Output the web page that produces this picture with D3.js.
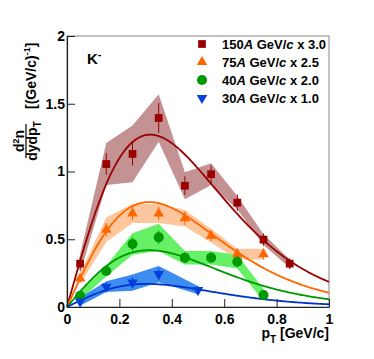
<!DOCTYPE html>
<html>
<head>
<meta charset="utf-8">
<script src="https://cdn.jsdelivr.net/npm/d3@7"></script>
<style>
  body { margin: 0; background: #fff; }
  text { font-family: "Liberation Sans", Arial, sans-serif; font-weight: bold; }
</style>
</head>
<body>
<div id="chart"></div>
<script>
// data (K- spectra, scaled)
var pt150 = [0.05, 0.15, 0.25, 0.35, 0.45, 0.55, 0.65, 0.75, 0.85];
var y150 = [0.32, 1.055, 1.13, 1.395, 0.895, 0.98, 0.77, 0.497, 0.32];
var stat150 = [0.05, 0.08, 0.085, 0.11, 0.07, 0.065, 0.06, 0.045, 0.04];
var sys150 = [0.07, 0.155, 0.21, 0.175, 0.1, 0.08, 0.05, 0.04, 0.03];

var pt75 = [0.05, 0.15, 0.25, 0.35, 0.45, 0.55, 0.65, 0.75];
var y75 = [0.21, 0.57, 0.69, 0.69, 0.655, 0.526, 0.39, 0.39];
var stat75 = [0.03, 0.05, 0.05, 0.05, 0.05, 0.04, 0.04, 0.04];
var sys75 = [0.04, 0.09, 0.07, 0.07, 0.06, 0.05, 0.04, 0.04];

var pt40 = [0.05, 0.15, 0.25, 0.35, 0.45, 0.55, 0.65, 0.75];
var y40 = [0.083, 0.266, 0.465, 0.514, 0.364, 0.364, 0.334, 0.088];
var stat40 = [0.02, 0.03, 0.05, 0.05, 0.04, 0.04, 0.04, 0.03];
var sys40 = [0.03, 0.04, 0.08, 0.1, 0.05, 0.05, 0.05, 0.045];

var pt30 = [0.05, 0.15, 0.25, 0.35, 0.5];
var y30 = [0.04, 0.15, 0.18, 0.243, 0.125];
var stat30 = [0.02, 0.03, 0.04, 0.04, 0.03];
var sys30 = [0.03, 0.04, 0.06, 0.06, 0.03];

// fit parameters (A, T) of A*pT*exp(-(mT-m)/T)
var fitA = [6.89, 4.25, 2.30, 0.96];
var fitT = [0.172, 0.168, 0.168, 0.16];
var kaonMass = 0.4937;

var energies = ["150", "75", "40", "30"];
var factors = ["3.0", "2.5", "2.0", "1.0"];

var xTicks = [0, 0.2, 0.4, 0.6, 0.8, 1];
var yTicks = [0, 0.5, 1, 1.5, 2];

(function() {
  var width = 374, height = 359;

  var svg = d3.select("#chart").append("svg")
              .attr("width", width)
              .attr("height", height);

  var x = d3.scaleLinear().domain([0, 1]).range([67, 329]);
  var y = d3.scaleLinear().domain([0, 2]).range([307, 36]);

  var series = [
    {pt: pt150, val: y150, stat: stat150, sys: sys150, line: "#990000", band: "#c49292", marker: "#990000", sym: d3.symbolSquare, size: 60, rot: 0},
    {pt: pt75, val: y75, stat: stat75, sys: sys75, line: "#ff6600", band: "#fdc69c", marker: "#ff6600", sym: d3.symbolTriangle, size: 48, rot: 0},
    {pt: pt40, val: y40, stat: stat40, sys: sys40, line: "#009900", band: "#66f066", marker: "#009900", sym: d3.symbolCircle, size: 80, rot: 0},
    {pt: pt30, val: y30, stat: stat30, sys: sys30, line: "#0033cc", band: "#3d8df0", marker: "#0040dd", sym: d3.symbolTriangle, size: 48, rot: 180}
  ];

  // frame
  svg.append("rect")
     .attr("x", 67).attr("y", 36)
     .attr("width", 262).attr("height", 271)
     .attr("fill", "none")
     .attr("stroke", "#999")
     .attr("stroke-width", 1.2);

  // systematic bands
  var area = d3.area()
               .x(function(d){ return x(d[0]); })
               .y0(function(d){ return y(d[1] - d[2]); })
               .y1(function(d){ return y(d[1] + d[2]); });

  series.forEach(function(s){
    var pts = s.pt.map(function(p, i){ return [p, s.val[i], s.sys[i]]; });
    svg.append("path")
       .attr("d", area(pts))
       .attr("fill", s.band);
  });

  // fit curves
  var line = d3.line()
               .x(function(d){ return x(d[0]); })
               .y(function(d){ return y(d[1]); });

  var grid = d3.range(0, 1.0001, 0.005);
  series.forEach(function(s, k){
    var pts = grid.map(function(p){
      var mt = Math.sqrt(p*p + kaonMass*kaonMass);
      return [p, fitA[k] * p * Math.exp(-(mt - kaonMass) / fitT[k])];
    });
    svg.append("path")
       .attr("d", line(pts))
       .attr("fill", "none")
       .attr("stroke", s.line)
       .attr("stroke-width", 1.8);
  });

  // points + stat errors
  series.forEach(function(s){
    var g = svg.append("g");
    s.pt.forEach(function(p, i){
      g.append("line")
       .attr("x1", x(p)).attr("x2", x(p))
       .attr("y1", y(s.val[i] - s.stat[i]))
       .attr("y2", y(s.val[i] + s.stat[i]))
       .attr("stroke", s.marker)
       .attr("stroke-width", 1);
      g.append("path")
       .attr("d", d3.symbol().type(s.sym).size(s.size)())
       .attr("transform", "translate(" + x(p) + "," + y(s.val[i]) + ") rotate(" + s.rot + ")")
       .attr("fill", s.marker);
    });
  });

  // axes
  var xAxis = svg.append("g").attr("transform", "translate(0,307)");
  xAxis.call(d3.axisBottom(x).tickValues(d3.range(0, 1.0001, 0.05)).tickSize(-4).tickSizeOuter(0).tickFormat(""));
  xAxis.call(d3.axisBottom(x).tickValues(xTicks).tickSize(-8).tickSizeOuter(0).tickPadding(5).tickFormat(d3.format("")));
  xAxis.selectAll("text").attr("font-size", 14).attr("fill", "#000").attr("dy", "0.85em");

  var yAxis = svg.append("g").attr("transform", "translate(67,0)");
  yAxis.call(d3.axisLeft(y).tickValues(d3.range(0, 2.0001, 0.1)).tickSize(-4).tickSizeOuter(0).tickFormat(""));
  yAxis.call(d3.axisLeft(y).tickValues(yTicks).tickSize(-8).tickSizeOuter(0).tickPadding(2).tickFormat(d3.format("")));
  yAxis.selectAll("text").attr("font-size", 14).attr("fill", "#000");

  svg.selectAll(".domain").attr("stroke", "#222").attr("stroke-width", 1.2);
  svg.selectAll(".tick line").attr("stroke", "#222");

  // x title
  var xt = svg.append("text")
              .attr("x", 329).attr("y", 338)
              .attr("text-anchor", "end")
              .attr("font-size", 14);
  xt.append("tspan").text("p");
  xt.append("tspan").attr("font-size", 10).attr("dy", 5).text("T");
  xt.append("tspan").attr("dy", -5).text(" [GeV/c]");

  // y title
  var yt = svg.append("g").attr("transform", "translate(26,141) rotate(-90)");
  var num = yt.append("text").attr("x", 0).attr("y", -2).attr("text-anchor", "middle").attr("font-size", 14);
  num.append("tspan").text("d");
  num.append("tspan").attr("font-size", 9).attr("dy", -5).text("2");
  num.append("tspan").attr("dy", 5).text("n");
  yt.append("line").attr("x1", -17).attr("x2", 17).attr("y1", 0).attr("y2", 0)
    .attr("stroke", "#000").attr("stroke-width", 1.2);
  var den = yt.append("text").attr("x", 0).attr("y", 11).attr("text-anchor", "middle").attr("font-size", 14);
  den.append("tspan").text("dydp");
  den.append("tspan").attr("font-size", 10).attr("dy", 4).text("T");
  var unit = yt.append("text").attr("x", 32).attr("y", 10).attr("font-size", 14);
  unit.append("tspan").text("[(GeV/c)");
  unit.append("tspan").attr("font-size", 9).attr("dy", -6).text("-1");
  unit.append("tspan").attr("dy", 6).text("]");

  // particle label
  var kl = svg.append("text").attr("x", 87).attr("y", 64).attr("font-size", 15);
  kl.append("tspan").text("K");
  kl.append("tspan").attr("font-size", 11).attr("dy", -6).text("-");

  // legend
  series.forEach(function(s, i){
    var ly = 44 + i * 18;
    svg.append("path")
       .attr("d", d3.symbol().type(s.sym).size(s.size)())
       .attr("transform", "translate(202," + ly + ") rotate(" + s.rot + ")")
       .attr("fill", s.marker);
    var t = svg.append("text").attr("x", 222).attr("y", ly + 5).attr("font-size", 13);
    t.append("tspan").text(energies[i]);
    t.append("tspan").attr("font-style", "italic").text("A");
    t.append("tspan").text(" GeV/");
    t.append("tspan").attr("font-style", "italic").text("c");
    t.append("tspan").text(" x " + factors[i]);
  });
})();
</script>
</body>
</html>
